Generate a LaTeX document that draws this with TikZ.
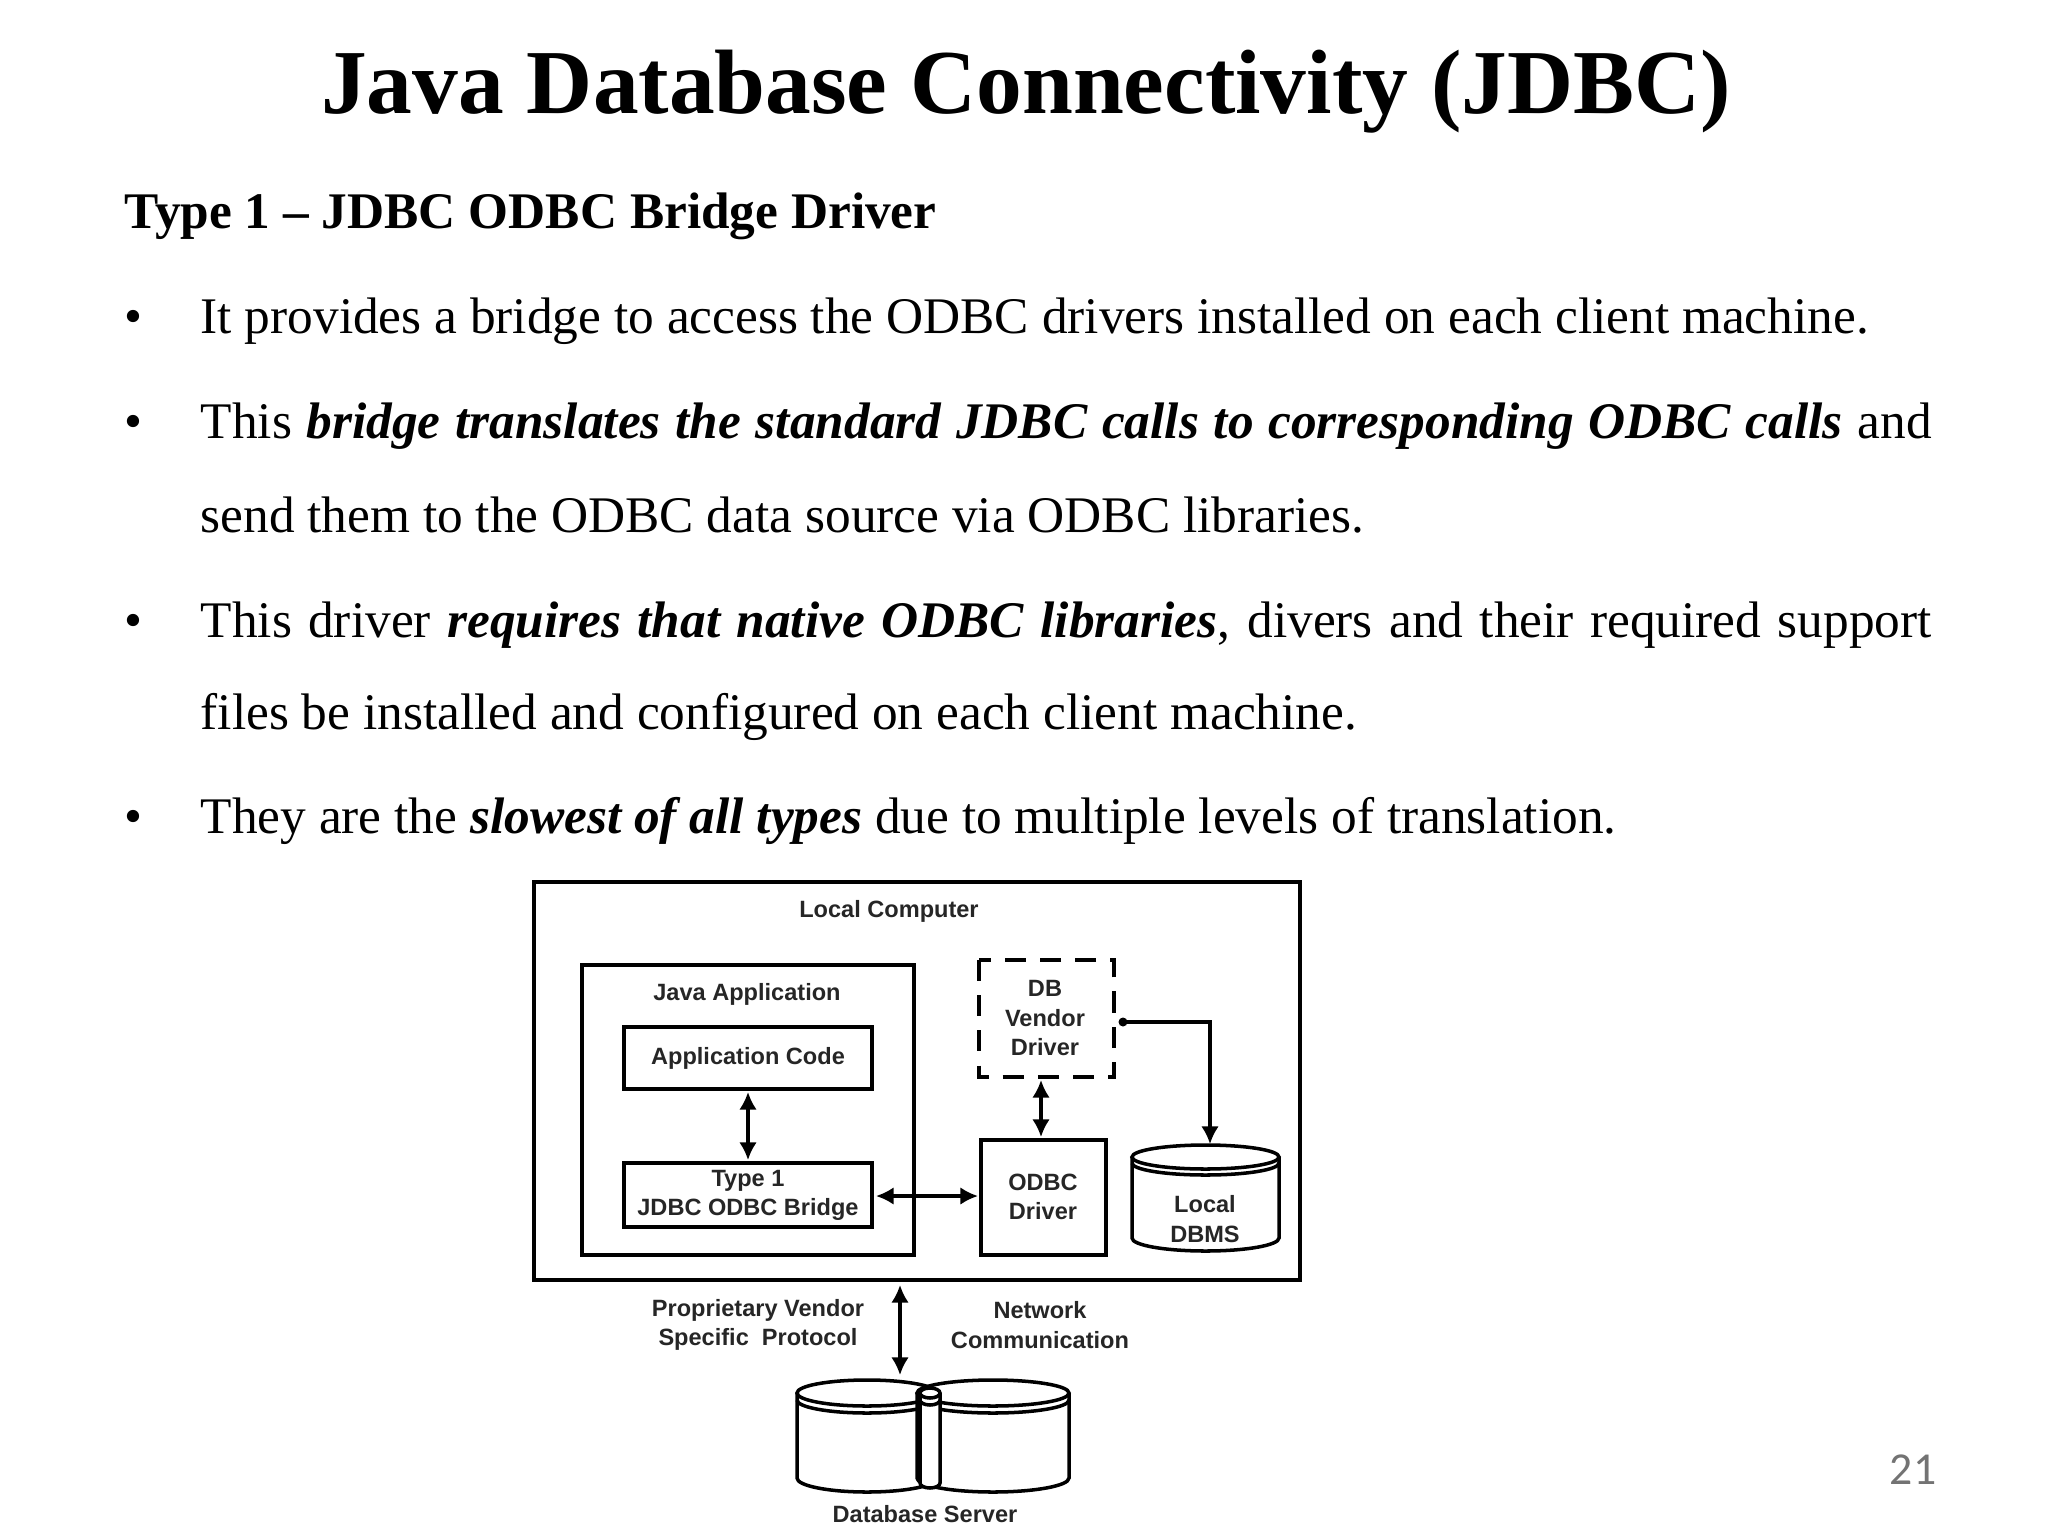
\documentclass[tikz,border=0pt]{standalone}
\usepackage{fontspec}
\setmainfont{Liberation Serif}
\newfontfamily\diagfont{Liberation Sans}
\newfontfamily\pagefont{Carlito}
\usetikzlibrary{arrows.meta}
\begin{document}
\begin{tikzpicture}[x=0.01cm,y=-0.01cm,
  box/.style={draw,line width=1pt},
  lab/.style={font=\diagfont\bfseries\fontsize{6.7}{8.3}\selectfont,align=center,text=black!85},
  body/.style={anchor=base west,inner sep=0,font=\fontsize{14.6}{18}\selectfont},
  arr/.style={line width=0.9pt,{Latex[length=5pt,width=5pt]}-{Latex[length=5pt,width=5pt]}}]
\useasboundingbox (0,0) rectangle (2048,1536);
\node (title) at (1026,92) {\bfseries\fontsize{26}{30}\selectfont Java Database Connectivity (JDBC)};
\node[anchor=base west,inner sep=0] (head) at (124,228) {\bfseries\fontsize{14.6}{18}\selectfont Type 1 -- JDBC ODBC Bridge Driver};
\foreach \y in {333,438,637,833} \node[body] at (124,\y) {\textbullet};
\node[body] (l1) at (200,333) {It provides a bridge to access the ODBC drivers installed on each client machine.};
\node[body] (l2) at (200,438) {\makebox[17.3cm][s]{This \textbf{\textit{bridge translates the standard JDBC calls to corresponding ODBC calls}} and}};
\node[body] (l3) at (200,532) {send them to the ODBC data source via ODBC libraries.};
\node[body] (l4) at (200,637) {\makebox[17.3cm][s]{This driver \textbf{\textit{requires that native ODBC libraries}}, divers and their required support}};
\node[body] (l5) at (200,729) {files be installed and configured on each client machine.};
\node[body] (l6) at (200,833) {They are the \textbf{\textit{slowest of all types}} due to multiple levels of translation.};
% diagram
\draw[box] (534,882) rectangle (1300,1280);
\node[lab] (lc) at (889,911) {Local Computer};
\draw[box] (582,965) rectangle (914,1255);
\node[lab] (ja) at (747,994) {Java Application};
\draw[box] (624,1027) rectangle (872,1089);
\node[lab] (act) at (748,1058) {Application Code};
\draw[box] (624,1163) rectangle (872,1227);
\node[lab] (br) at (748,1195) {Type 1\\JDBC ODBC Bridge};
\coordinate (acb) at (748,1092); \coordinate (brt) at (748,1160);
\draw[arr] (acb) -- (brt);
\draw[line width=1pt,dash pattern=on 6pt off 4pt] (979,960) rectangle (1114,1077);
\node[lab] (dbv) at (1045,1018) {DB\\Vendor\\Driver};
\draw[box] (981,1140) rectangle (1106,1255);
\node[lab] (odbc) at (1043,1197) {ODBC\\Driver};
\coordinate (dvb) at (1041,1080); \coordinate (odt) at (1041,1137);
\draw[arr] (dvb) -- (odt);
\coordinate (brr) at (876,1196); \coordinate (odl) at (978,1196);
\draw[arr] (brr) -- (odl);
% local DBMS
\draw[line width=1pt,fill=white] (1132,1157) -- (1132,1238) arc[start angle=180,end angle=0,x radius=73.5,y radius=13] -- (1279,1157);
\draw[line width=1pt] (1205.5,1157) ellipse[x radius=73.5,y radius=12];
\draw[line width=1pt] (1132,1163) arc[start angle=180,end angle=0,x radius=73.5,y radius=12];
\node[lab] (ldb) at (1205,1219) {Local\\DBMS};
\coordinate (dot) at (1123,1022); \coordinate (ldt) at (1210,1144);
\fill (dot) circle (4.5);
\draw[line width=0.9pt,-{Latex[length=5pt,width=5pt]}] (dot) -| (ldt);
% network
\coordinate (nt) at (900,1285); \coordinate (nb) at (900,1375);
\draw[arr] (nt) -- (nb);
\node[lab] (pv) at (758,1325) {Proprietary Vendor\\Specific\ \ Protocol};
\node[lab] (nc) at (1040,1325) {Network\\Communication};
% database server
\foreach \cx/\rx in {867/70,993/76}{
  \draw[line width=1pt,fill=white] (\cx-\rx,1393) -- (\cx-\rx,1478) arc[start angle=180,end angle=0,x radius=\rx,y radius=14] -- (\cx+\rx,1393);
  \draw[line width=1pt] (\cx,1393) ellipse[x radius=\rx,y radius=13];
  \draw[line width=1pt] (\cx-\rx,1400) arc[start angle=180,end angle=0,x radius=\rx,y radius=13];
}
\draw[line width=1pt,fill=white] (920,1393) -- (920,1483) arc[start angle=180,end angle=0,x radius=10,y radius=5] -- (940,1393);
\draw[line width=1pt,fill=white] (930,1393) ellipse[x radius=10,y radius=5];
\draw[line width=1pt] (920,1400) arc[start angle=180,end angle=0,x radius=10,y radius=5];
\node[lab] (ds) at (925,1514) {Database Server};
\node[font=\pagefont\fontsize{13}{15}\selectfont,text=black!55] (pg) at (1913,1470) {21};
\end{tikzpicture}
\end{document}
